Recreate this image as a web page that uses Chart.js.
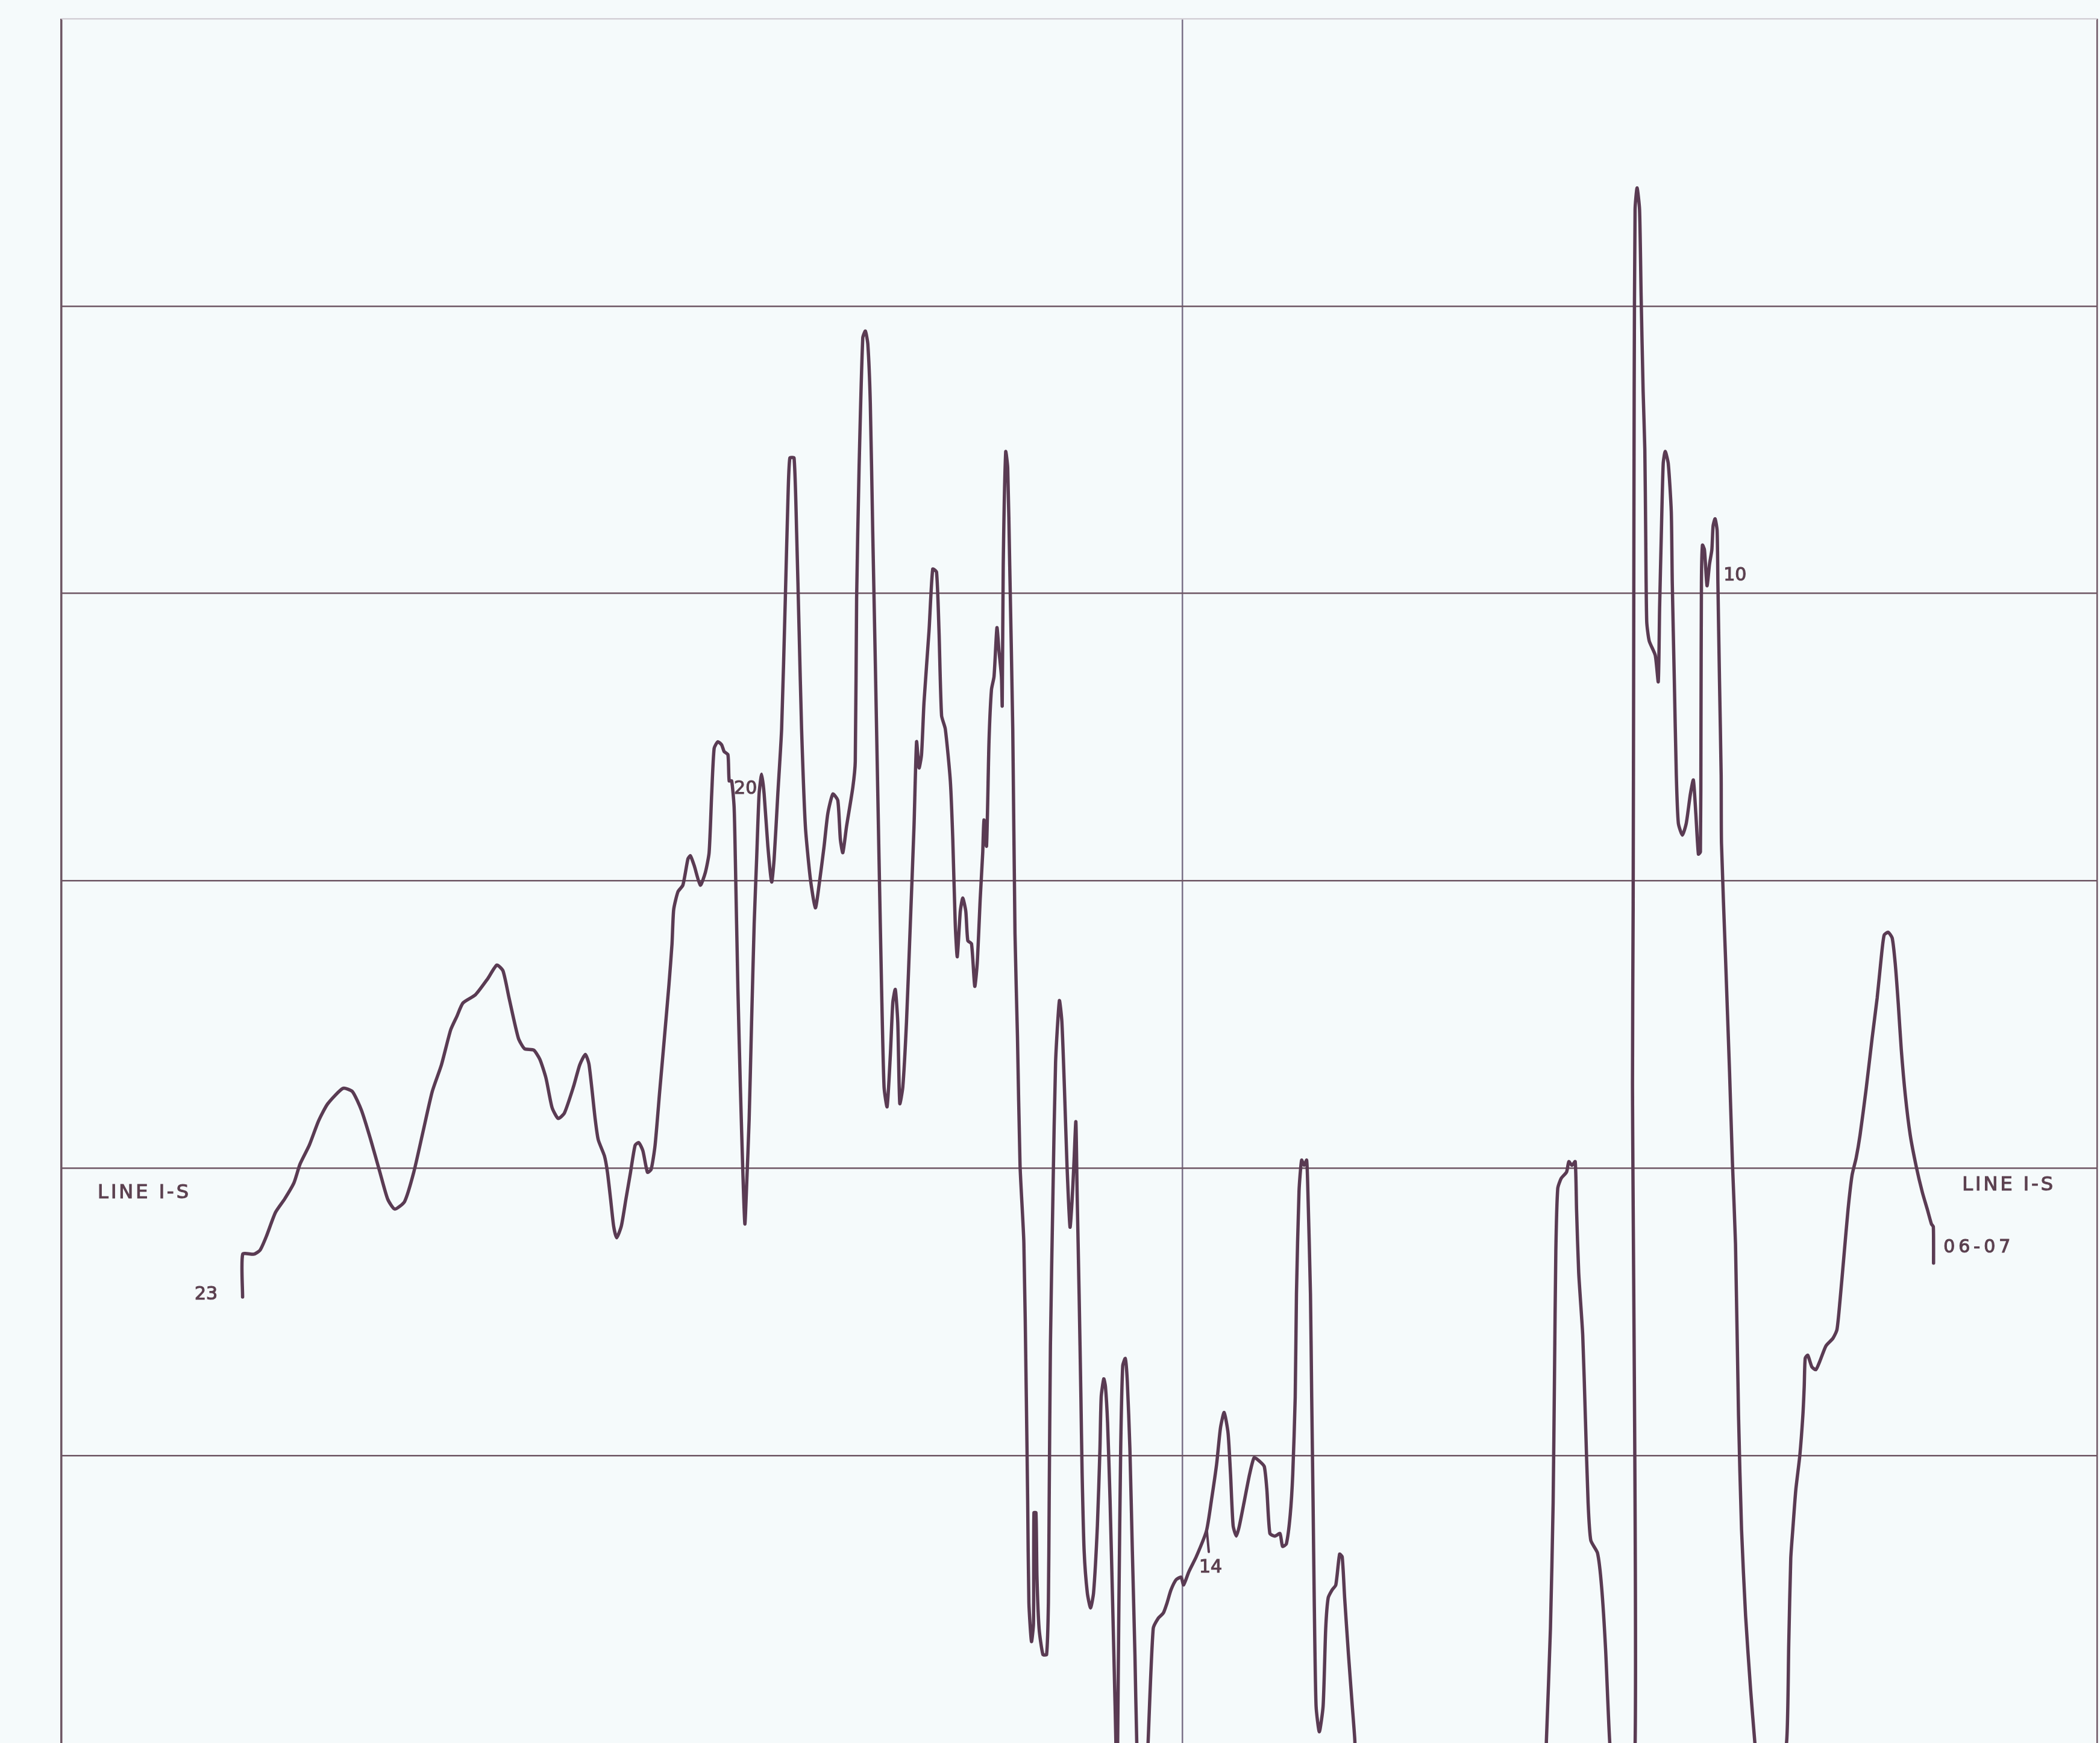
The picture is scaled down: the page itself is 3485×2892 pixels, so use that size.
<!DOCTYPE html>
<html>
<head>
<meta charset="utf-8">
<script src="https://cdn.jsdelivr.net/npm/chart.js@4/dist/chart.umd.min.js"></script>
<style>
  html, body { margin: 0; padding: 0; background: #f5fafb; overflow: hidden; }
  canvas { display: block; width: 3485px; height: 2892px; }
</style>
</head>
<body>
<canvas id="grafico" width="3485" height="2892"></canvas>
<script>
// distancia ao longo da linha (0 = borda esquerda, 100 = linha vertical do meio)
const dist = [
  16.16, 16.17, 17.17, 17.72, 18.27, 19.09, 19.91, 20.74, 21.28, 22.11,
  22.93, 23.75, 25.12, 25.95, 26.77, 27.59, 28.41, 29.10, 29.73, 30.61,
  31.43, 32.25, 33.08, 33.90, 34.72, 35.27, 35.82, 36.92, 38.02, 38.84,
  39.39, 39.93, 40.76, 41.31, 42.13, 42.68, 43.23, 43.77, 44.32, 44.87,
  45.69, 46.24, 46.74, 47.07, 47.61, 47.89, 48.44, 48.71, 48.99, 49.26,
  49.53, 49.95, 50.36, 50.77, 51.18, 51.51, 51.87, 52.28, 52.61, 52.96,
  53.37, 53.79, 54.20, 54.47, 54.62, 55.00, 55.44, 55.89, 56.11, 56.45,
  57.00, 57.45, 57.78, 58.01, 58.23, 58.56, 58.90, 59.12, 59.46, 59.57,
  59.79, 60.01, 60.12, 60.35, 60.57, 60.79, 60.97, 61.13, 61.35, 61.57,
  61.80, 62.02, 62.24, 62.47, 62.69, 63.02, 63.36, 63.58, 63.91, 64.25,
  64.58, 64.81, 64.98, 65.36, 65.59, 65.81, 66.03, 66.37, 66.81, 67.26,
  67.59, 68.04, 68.37, 68.82, 69.26, 69.49, 69.71, 70.04, 70.60, 70.82,
  70.94, 71.16, 71.49, 71.72, 71.94, 72.16, 72.38, 72.61, 72.94, 73.17,
  73.39, 73.66, 73.95, 74.17, 74.39, 74.61, 74.79, 75.06, 75.39, 75.73,
  76.06, 76.29, 76.51, 76.73, 76.95, 77.40, 77.73, 78.07, 78.29, 78.52,
  78.85, 79.30, 79.52, 79.74, 79.92, 80.19, 80.41, 80.68, 80.86, 81.19,
  81.48, 81.70, 81.97, 82.19, 82.30, 82.53, 82.75, 82.97, 83.20, 83.46,
  83.64, 83.86, 83.93, 84.02, 84.24, 84.42, 84.60, 84.87, 85.07, 85.29,
  85.52, 85.86, 86.08, 86.20, 86.31, 86.54, 86.72, 86.76, 86.94, 87.03,
  87.22, 87.56, 87.89, 88.05, 88.12, 88.23, 88.46, 88.69, 89.03, 89.25,
  89.48, 89.71, 89.98, 90.16, 90.34, 90.50, 90.61, 90.79, 90.95, 91.06,
  91.24, 91.52, 91.81, 92.08, 92.42, 92.65, 92.76, 92.99, 93.14, 93.33,
  93.55, 93.78, 94.00, 94.12, 94.17, 94.23, 94.34, 94.50, 94.68, 94.91,
  95.09, 95.32, 95.54, 95.77, 95.93, 96.43, 96.95, 97.40, 97.85, 98.30,
  98.64, 98.98, 99.44, 99.89, 100.11, 100.57, 101.25, 102.15, 102.60, 103.06,
  103.40, 103.73, 104.08, 104.30, 104.53, 104.82, 105.09, 105.55, 106.00, 106.41,
  106.90, 107.31, 107.54, 107.81, 108.26, 108.71, 108.94, 109.28, 109.62, 109.85,
  110.07, 110.18, 110.41, 110.64, 110.86, 111.09, 111.20, 111.43, 111.54, 111.66,
  111.77, 111.93, 112.22, 112.56, 112.79, 113.01, 113.35, 113.69, 114.03, 114.26,
  114.48, 114.82, 115.16, 115.39, 116.00, 131.90, 132.48, 132.84, 133.08, 133.20,
  133.32, 133.49, 133.80, 134.28, 134.48, 134.76, 135.05, 135.17, 135.36, 135.72,
  135.96, 136.20, 136.44, 137.04, 137.40, 137.76, 138.12, 139.20, 140.40, 140.16,
  140.22, 140.27, 140.31, 140.39, 140.57, 140.79, 140.93, 141.11, 141.26, 141.34,
  141.43, 141.65, 142.19, 142.46, 142.58, 142.73, 142.90, 143.08, 143.35, 143.62,
  143.71, 143.89, 144.07, 144.25, 144.61, 144.96, 145.32, 145.59, 145.81, 146.04,
  146.22, 146.27, 146.31, 146.40, 146.58, 146.81, 147.03, 147.24, 147.35, 147.53,
  147.71, 147.78, 147.92, 148.07, 148.10, 148.46, 148.82, 149.08, 149.35, 149.62,
  149.89, 150.25, 150.70, 151.06, 152.40, 153.92, 154.10, 154.28, 154.46, 154.73,
  155.09, 155.36, 155.48, 155.57, 155.80, 156.16, 156.52, 156.88, 157.42, 158.04,
  158.40, 158.67, 159.03, 159.39, 159.75, 160.11, 160.46, 161.00, 161.54, 161.99,
  162.35, 162.61, 162.97, 163.33, 163.60, 163.87, 164.14, 164.50, 164.94, 165.48,
  166.02, 166.47, 166.83, 167.00, 167.02
];

// amplitude do registro (1 = uma divisao da grade, 0 = linha de referencia)
const amp = [
  -0.448, -0.299, -0.299, -0.285, -0.238, -0.154, -0.107, -0.051, 0.014, 0.080,
  0.164, 0.224, 0.278, 0.267, 0.201, 0.099, -0.014, -0.107, -0.142, -0.116,
  -0.014, 0.126, 0.267, 0.360, 0.481, 0.528, 0.575, 0.603, 0.659, 0.707,
  0.687, 0.593, 0.453, 0.416, 0.411, 0.379, 0.313, 0.211, 0.173, 0.192,
  0.285, 0.360, 0.396, 0.360, 0.173, 0.099, 0.043, -0.014, -0.107, -0.201,
  -0.242, -0.201, -0.107, -0.014, 0.080, 0.089, 0.061, -0.014, -0.004, 0.080,
  0.267, 0.453, 0.640, 0.780, 0.900, 0.962, 0.985, 1.076, 1.087, 1.053,
  0.985, 1.030, 1.098, 1.302, 1.461, 1.484, 1.473, 1.450, 1.439, 1.348,
  1.348, 1.257, 1.076, 0.622, 0.282, -0.013, -0.194, -0.058, 0.168, 0.509,
  0.849, 1.076, 1.302, 1.371, 1.302, 1.121, 0.996, 1.076, 1.302, 1.529,
  1.983, 2.323, 2.471, 2.471, 2.210, 1.870, 1.529, 1.189, 1.008, 0.906,
  0.985, 1.121, 1.234, 1.302, 1.280, 1.144, 1.098, 1.189, 1.325, 1.416,
  1.983, 2.437, 2.890, 2.913, 2.868, 2.663, 2.210, 1.756, 1.076, 0.622,
  0.282, 0.214, 0.395, 0.577, 0.622, 0.509, 0.225, 0.282, 0.509, 0.849,
  1.189, 1.484, 1.393, 1.439, 1.620, 1.870, 2.085, 2.074, 1.870, 1.575,
  1.529, 1.348, 1.144, 0.849, 0.736, 0.894, 0.940, 0.894, 0.792, 0.781,
  0.633, 0.713, 0.940, 1.098, 1.212, 1.121, 1.484, 1.665, 1.711, 1.881,
  1.801, 1.711, 1.609, 2.096, 2.493, 2.437, 2.096, 1.529, 0.816, 0.458,
  0.010, -0.259, -0.796, -1.154, -1.512, -1.647, -1.584, -1.199, -1.199, -1.423,
  -1.602, -1.692, -1.692, -1.512, -1.154, -0.617, -0.080, 0.368, 0.583, 0.511,
  0.279, 0.010, -0.205, -0.115, 0.028, 0.162, -0.080, -0.438, -0.796, -1.065,
  -1.333, -1.477, -1.530, -1.477, -1.244, -0.975, -0.796, -0.733, -0.760, -0.886,
  -1.154, -1.512, -1.871, -2.100, -2.300, -2.000, -1.512, -0.975, -0.688, -0.662,
  -0.742, -0.975, -1.333, -1.692, -1.993, -2.500, -1.993, -1.602, -1.566, -1.548,
  -1.512, -1.468, -1.432, -1.423, -1.450, -1.405, -1.351, -1.262, -1.154, -1.029,
  -0.904, -0.850, -0.922, -1.065, -1.244, -1.280, -1.244, -1.154, -1.065, -1.007,
  -1.020, -1.038, -1.118, -1.271, -1.280, -1.271, -1.316, -1.307, -1.208, -1.065,
  -0.796, -0.438, -0.080, 0.028, 0.010, 0.028, -0.080, -0.438, -0.796, -1.154,
  -1.512, -1.871, -1.961, -1.871, -1.602, -1.495, -1.468, -1.450, -1.343, -1.352,
  -1.495, -1.692, -1.871, -1.993, -2.600, -2.600, -1.991, -1.601, -1.164, -0.727,
  -0.290, -0.071, -0.035, -0.013, 0.023, 0.010, 0.023, -0.144, -0.363, -0.581,
  -0.872, -1.164, -1.295, -1.339, -1.455, -1.674, -1.991, -2.600, -1.990, 0.293,
  0.921, 1.868, 2.702, 3.336, 3.411, 3.336, 3.036, 2.702, 2.502, 2.202,
  1.902, 1.835, 1.785, 1.693, 1.952, 2.202, 2.452, 2.494, 2.452, 2.285,
  2.035, 1.701, 1.368, 1.201, 1.159, 1.201, 1.301, 1.351, 1.234, 1.093,
  1.101, 1.535, 2.035, 2.168, 2.152, 2.027, 2.102, 2.152, 2.235, 2.260,
  2.219, 2.035, 1.701, 1.368, 1.130, 0.732, 0.334, 0.015, -0.263, -0.860,
  -1.258, -1.557, -1.816, -1.991, -2.600, -1.991, -1.657, -1.358, -1.258, -1.119,
  -0.999, -0.860, -0.761, -0.661, -0.651, -0.691, -0.701, -0.671, -0.618, -0.592,
  -0.562, -0.462, -0.303, -0.144, -0.024, 0.035, 0.115, 0.274, 0.453, 0.593,
  0.732, 0.811, 0.821, 0.801, 0.712, 0.573, 0.413, 0.254, 0.115, 0.005,
  -0.084, -0.144, -0.194, -0.204, -0.330
];

// marca do ponto 14 (pequeno traco abaixo do registro)
const marcaDist = [102.18, 102.36];
const marcaAmp = [-1.258, -1.335];

// textos e onde ficam (em unidades dos eixos, linha de base)
const textos = ['LINE I-S', 'LINE I-S', '23', '20', '14', '10', '06-07'];
const textoDist = [3.23, 169.57, 11.88, 60.0, 101.5, 148.28, 167.9];
const textoAmp = [-0.105, -0.077, -0.456, 1.303, -1.406, 2.046, -0.293];

const corTraco = '#5a3b53';
const corGrade = '#6d5563';
const corTexto = '#5c4150';

const fundo = {
  id: 'fundo',
  beforeDraw(chart) {
    const c = chart.ctx;
    c.save();
    c.fillStyle = '#f5fafb';
    c.fillRect(0, 0, chart.width, chart.height);
    c.restore();
  }
};

const rotulos = {
  id: 'rotulos',
  afterDatasetsDraw(chart) {
    const c = chart.ctx;
    const sx = chart.scales.x;
    const sy = chart.scales.y;
    c.save();
    c.fillStyle = corTexto;
    c.strokeStyle = corTexto;
    c.lineWidth = 1.2;
    c.textBaseline = 'alphabetic';
    textos.forEach((t, i) => {
      const grande = t.startsWith('LINE');
      c.font = (grande ? '32px' : '30px') + ' "DejaVu Sans", sans-serif';
      c.letterSpacing = grande ? '4px' : (t.length > 2 ? '6px' : '0px');
      const px = sx.getPixelForValue(textoDist[i]);
      const py = sy.getPixelForValue(textoAmp[i]);
      c.fillText(t, px, py);
      c.strokeText(t, px, py);
    });
    c.restore();
  }
};

const ctx = document.getElementById('grafico').getContext('2d');

new Chart(ctx, {
  type: 'line',
  data: {
    datasets: [
      {
        data: dist.map((d, i) => ({ x: d, y: amp[i] })),
        borderColor: corTraco,
        borderWidth: 5.5,
        pointRadius: 0,
        tension: 0.2,
        borderJoinStyle: 'round',
        borderCapStyle: 'round'
      },
      {
        data: marcaDist.map((d, i) => ({ x: d, y: marcaAmp[i] })),
        borderColor: corTraco,
        borderWidth: 4,
        pointRadius: 0,
        borderCapStyle: 'round'
      }
    ]
  },
  options: {
    responsive: false,
    animation: false,
    devicePixelRatio: 1,
    layout: { padding: { left: 102, right: 5, top: 31, bottom: 0 } },
    plugins: {
      legend: { display: false },
      tooltip: { enabled: false }
    },
    scales: {
      x: {
        type: 'linear',
        min: 0,
        max: 181.6,
        ticks: { display: false, stepSize: 100 },
        border: { display: false },
        grid: {
          drawTicks: false,
          color: (c) => c.tick && c.tick.value === 100 ? '#7a7087' : corGrade,
          lineWidth: (c) => c.tick && c.tick.value === 0 ? 3.5 : 2.5
        }
      },
      y: {
        min: -2,
        max: 4,
        ticks: { display: false, stepSize: 1 },
        border: { display: false },
        grid: {
          drawTicks: false,
          color: (c) => {
            if (!c.tick) return corGrade;
            if (c.tick.value === 4) return '#d3d0d6';
            if (c.tick.value === -2) return 'rgba(0,0,0,0)';
            return corGrade;
          },
          lineWidth: 2.5
        }
      }
    }
  },
  plugins: [fundo, rotulos]
});
</script>
</body>
</html>
